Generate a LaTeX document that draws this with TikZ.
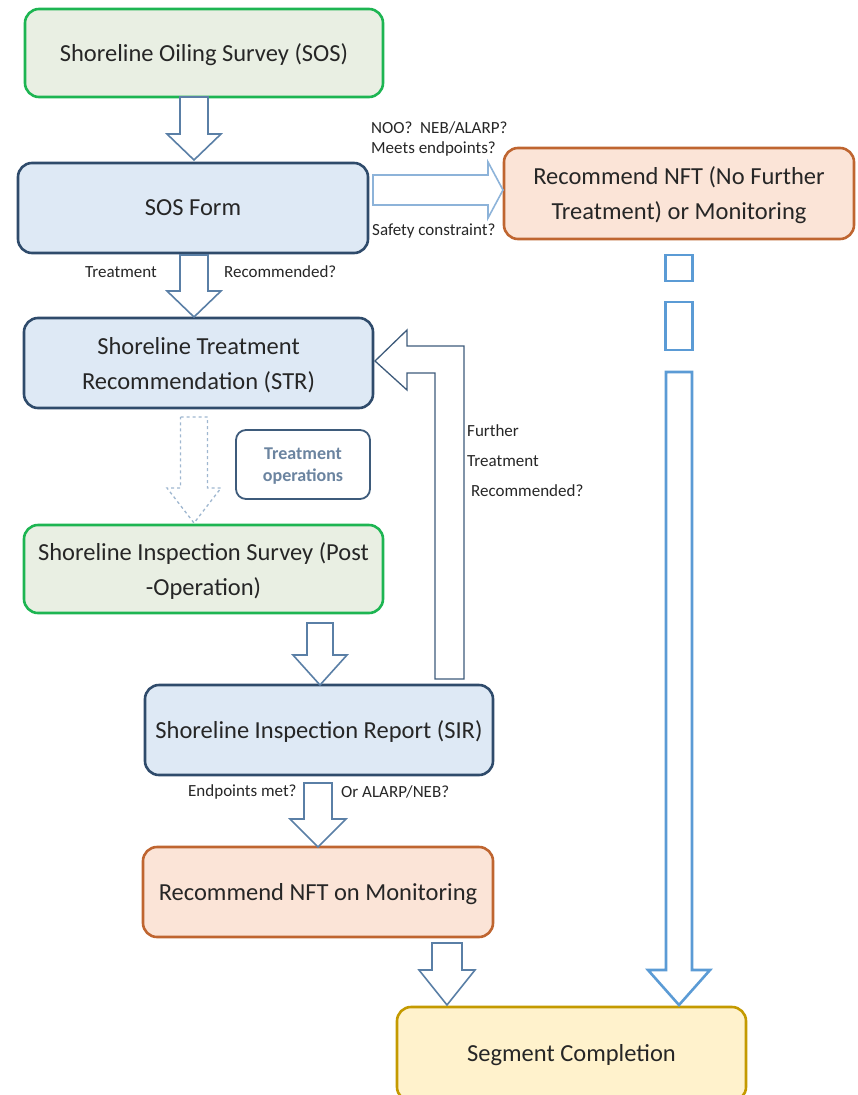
\documentclass[tikz,border=0pt]{standalone}
\usepackage{fontspec}
\setmainfont{Carlito}
\usetikzlibrary{calc}
\definecolor{txt}{HTML}{262626}
\definecolor{gfill}{HTML}{E9EFE3}
\definecolor{gline}{HTML}{1DB552}
\definecolor{bfill}{HTML}{DEE9F5}
\definecolor{bline}{HTML}{2F4B6B}
\definecolor{ofill}{HTML}{FBE4D7}
\definecolor{oline}{HTML}{BF6530}
\definecolor{yfill}{HTML}{FFF2CC}
\definecolor{yline}{HTML}{C49A00}
\definecolor{arr}{HTML}{5A7FA6}
\definecolor{arrlight}{HTML}{8DB3D9}
\definecolor{arrdash}{HTML}{9FB7D0}
\definecolor{arrright}{HTML}{5B9BD5}
\definecolor{fb}{HTML}{3E5B7B}
\definecolor{optxt}{HTML}{6B84A0}
\tikzset{
  box/.style={rounded corners=14pt, line width=2.6pt, align=center, text=txt,
    font=\fontsize{24.5}{35}\selectfont, inner sep=0pt, text depth=0pt},
  greenbox/.style={box, fill=gfill, draw=gline},
  bluebox/.style={box, fill=bfill, draw=bline},
  orangebox/.style={box, fill=ofill, draw=oline},
  yellowbox/.style={box, fill=yfill, draw=yline},
  lbl/.style={text=txt, font=\fontsize{17}{19}\selectfont, inner sep=0pt},
  blockarrow/.style={draw=arr, line width=1.6pt, fill=white, line join=miter},
}
% vertical block arrow: style, cx, ytop, ytip, shaft half width, head half width, head length
\newcommand{\varrowblk}[7]{\draw[#1] (#2-#5,#3) -- (#2+#5,#3) -- (#2+#5,#4-#7) -- (#2+#6,#4-#7) -- (#2,#4) -- (#2-#6,#4-#7) -- (#2-#5,#4-#7) -- cycle;}
\begin{document}
\begin{tikzpicture}[x=1pt,y=-1pt]
\useasboundingbox (0,0) rectangle (857,1095);

% nodes
\node[greenbox, minimum width=358pt, minimum height=88pt] (sos) at (204,53) {Shoreline Oiling Survey (SOS)};
\node[bluebox, minimum width=350pt, minimum height=90pt] (form) at (193,208) {SOS Form};
\node[orangebox, minimum width=350pt, minimum height=91pt] (nft) at (679,193.5) {Recommend NFT (No Further\\Treatment) or Monitoring};
\node[bluebox, minimum width=349pt, minimum height=90pt] (str) at (198.5,363) {Shoreline Treatment\\Recommendation (STR)};
\node[box, draw=fb, fill=white, line width=1.8pt, rounded corners=10pt, minimum width=134pt, minimum height=69pt, text=optxt, font=\fontsize{18}{22}\selectfont\bfseries] (tops) at (303,464.5) {Treatment\\operations};
\node[greenbox, minimum width=359pt, minimum height=88pt] (sis) at (203.5,569) {Shoreline Inspection Survey (Post\\-Operation)};
\node[bluebox, minimum width=348pt, minimum height=90pt] (sir) at (319,730) {Shoreline Inspection Report (SIR)};
\node[orangebox, minimum width=350pt, minimum height=90pt] (nftm) at (318,892) {Recommend NFT on Monitoring};
\node[yellowbox, minimum width=349pt, minimum height=94pt] (seg) at (571.5,1054) {};
\node[text=txt, font=\fontsize{24.5}{28}\selectfont] (segtxt) at (571.5,1055) {Segment Completion};

% block arrows
\varrowblk{blockarrow}{194}{97}{160}{14}{27}{26}
\varrowblk{blockarrow}{194}{255}{317}{14}{27}{26}
\varrowblk{blockarrow, draw=arrdash, dashed, line width=1.3pt}{194}{417}{523}{13.5}{27}{35}
\varrowblk{blockarrow}{320}{623}{685}{13}{27}{30}
\varrowblk{blockarrow}{318}{783}{847}{14}{28}{28}
\varrowblk{blockarrow}{447}{943}{1005}{15}{28}{35}

% horizontal arrow form -> nft
\draw[blockarrow, draw=arrlight] (373,175) -- (488,175) -- (488,162) -- (503,190) -- (488,218) -- (488,205) -- (373,205) -- cycle;

% feedback arrow SIR -> STR
\draw[draw=fb, line width=1.3pt, fill=white, line join=miter]
  (435,679) -- (435,373) -- (407,373) -- (407,390) -- (375,361) -- (407,330) -- (407,346) -- (464,346) -- (464,679) -- cycle;

% right dotted long arrow nft -> seg
\draw[draw=arrright, line width=2.6pt, fill=white] (665.5,255) rectangle (692.5,281);
\draw[draw=arrright, line width=2.6pt, fill=white] (665.5,302) rectangle (692.5,350);
\draw[draw=arrright, line width=2.6pt, fill=white, line join=miter]
  (666,372) -- (692,372) -- (692,970) -- (710,970) -- (679,1005) -- (648,970) -- (666,970) -- cycle;

% labels
\node[lbl, anchor=west] (l1) at (371,128) {NOO?\ \ NEB/ALARP?};
\node[lbl, anchor=west] (l2) at (371,149) {Meets endpoints?};
\node[lbl, anchor=west] (l3) at (372,231) {Safety constraint?};
\node[lbl, anchor=west] (l4) at (85,272) {Treatment};
\node[lbl, anchor=west] (l5) at (224,272) {Recommended?};
\node[lbl, anchor=west] (l6) at (467,431) {Further};
\node[lbl, anchor=west] (l7) at (467,461) {Treatment};
\node[lbl, anchor=west] (l8) at (471,491) {Recommended?};
\node[lbl, anchor=west] (l9) at (188,792) {Endpoints met?};
\node[lbl, anchor=west] (l10) at (341,792) {Or ALARP/NEB?};
\end{tikzpicture}
\end{document}
